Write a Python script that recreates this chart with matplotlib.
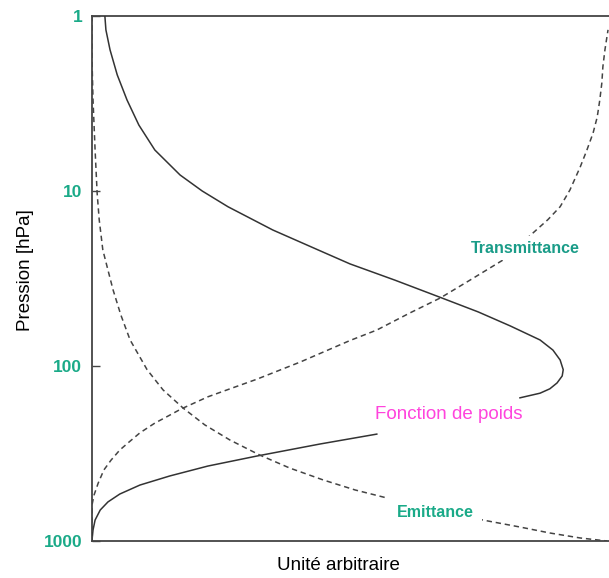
import numpy as np
import matplotlib
matplotlib.use("Agg")
import matplotlib.pyplot as plt

# données (x : unité arbitraire 0..1, p : pression en hPa)
# fonction de poids : deux morceaux, coupée par l'étiquette
poids_x = [0.025, 0.027, 0.035, 0.049, 0.068, 0.091, 0.122, 0.171, 0.214, 0.264,
           0.351, 0.448, 0.501, 0.588, 0.674, 0.750, 0.812, 0.870, 0.895, 0.909,
           0.915, 0.913, 0.903, 0.889, 0.870, 0.831,
           np.nan,
           0.553, 0.443, 0.320, 0.225, 0.151, 0.093, 0.054, 0.031, 0.016, 0.006,
           0.002, 0.0]
poids_p = [1.0, 1.20, 1.56, 2.17, 3.02, 4.20, 5.83, 8.10, 10.0, 12.3,
           16.7, 22.3, 26.1, 32.3, 40.3, 49.1, 59.0, 71.0, 81.1, 92.4,
           105.0, 114.0, 125.0, 135.0, 143.0, 152.0,
           np.nan,
           245.0, 279.0, 327.0, 373.0, 425.0, 479.0, 539.0, 598.0, 665.0, 759.0,
           865.0, 990.0]

trans_x = [0.0, 0.0, 0.004, 0.012, 0.023, 0.037, 0.054, 0.070, 0.093, 0.122,
           0.148, 0.173, 0.198, 0.225, 0.268, 0.320, 0.404, 0.501, 0.553, 0.617,
           0.676, 0.734, 0.798, 0.856, 0.885, 0.909, 0.928, 0.948, 0.961, 0.973,
           0.981, 0.986, 0.990, 0.992, 0.996, 1.002]
trans_p = [1000.0, 623.0, 546.0, 467.0, 393.0, 345.0, 302.0, 275.0, 241.0, 212.0,
           193.0, 176.0, 163.0, 150.0, 135.0, 119.0, 95.0, 71.5, 62.3, 49.8,
           40.9, 32.3, 24.8, 17.4, 14.6, 12.3, 9.87, 7.29, 5.83, 4.66,
           3.78, 3.02, 2.41, 1.95, 1.56, 1.20]

emit_x = [0.0, 0.0, 0.002, 0.006, 0.010, 0.014, 0.021, 0.031, 0.041, 0.056,
          0.074, 0.107, 0.138, 0.177, 0.219, 0.268, 0.326, 0.384, 0.449, 0.511,
          0.573, 0.759, 0.831, 0.889, 0.948, 1.0]
emit_p = [1.0, 1.78, 3.02, 5.83, 10.3, 14.6, 21.7, 28.3, 36.8, 51.1,
          71.0, 105.0, 137.0, 174.0, 217.0, 265.0, 323.0, 383.0, 448.0, 511.0,
          568.0, 759.0, 832.0, 900.0, 961.0, 1000.0]

yticks = [1, 10, 100, 1000]
ytick_labels = ["1", "10", "100", "1000"]

plt.rcParams['font.family'] = ['Liberation Sans', 'DejaVu Sans']

fig = plt.figure(figsize=(6.09, 5.78), dpi=100)
ax = fig.add_axes([92/609, 37/578, 517/609, 525/578])

ax.plot(poids_x, poids_p, color='#333333', lw=1.1, zorder=3)
ax.plot(trans_x, trans_p, color='#444444', lw=1.1, ls=(0, (3.5, 2.5)), zorder=3)
ax.plot(emit_x, emit_p, color='#444444', lw=1.1, ls=(0, (3.5, 2.5)), zorder=3)

ax.set_yscale('log')
ax.set_ylim(1000, 1)
ax.set_xlim(0, 517/515)

ax.set_yticks(yticks)
ax.set_yticklabels(ytick_labels)
ax.minorticks_off()
ax.set_xticks([])
ax.tick_params(axis='y', direction='in', length=6, width=1, pad=7,
               labelsize=12.5, labelcolor='#1aaa88', color='#444444')
for lab in ax.get_yticklabels():
    lab.set_fontweight('bold')

for s in ['left', 'bottom', 'top']:
    ax.spines[s].set_color('#444444')
    ax.spines[s].set_linewidth(1.3)
ax.spines['right'].set_visible(False)

ax.set_ylabel("Pression [hPa]", fontsize=13.5)
ax.yaxis.set_label_coords(-0.112, 0.516)
ax.set_xlabel("Unité arbitraire", fontsize=13.5)
ax.xaxis.set_label_coords(0.476, -0.030)

# étiquettes des courbes, fond blanc pour couper les lignes
ax.text(0.841, 21.2, "Transmittance", color='#1a9c88', fontsize=11.5, fontweight='bold',
        ha='center', va='center', zorder=4,
        bbox=dict(facecolor='white', edgecolor='none', pad=3))
ax.text(0.693, 190, "Fonction de poids", color='#ff44dd', fontsize=13.5,
        ha='center', va='center', zorder=4)
ax.text(0.666, 690, "Emittance", color='#1aaa88', fontsize=11.5, fontweight='bold',
        ha='center', va='center', zorder=4,
        bbox=dict(facecolor='white', edgecolor='none', pad=6))

fig.savefig("out.png", dpi=100)
